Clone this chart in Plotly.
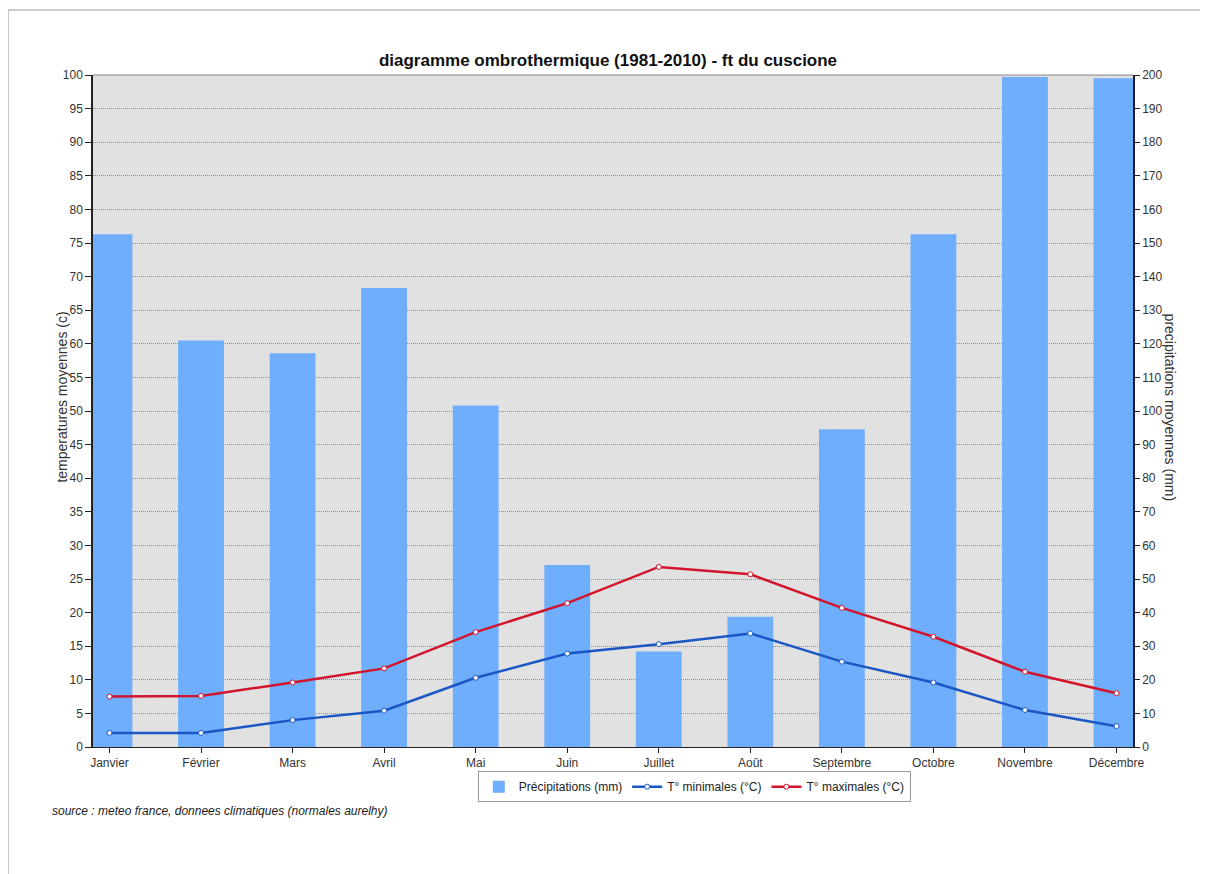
import plotly.graph_objects as go

mois = ['Janvier', 'Février', 'Mars', 'Avril', 'Mai', 'Juin',
        'Juillet', 'Août', 'Septembre', 'Octobre', 'Novembre', 'Décembre']
precip_mm = [152.6, 121.0, 117.2, 136.6, 101.6, 54.2, 28.4, 38.8, 94.6, 152.6, 199.4, 199.0]
t_min = [2.1, 2.1, 4.0, 5.4, 10.3, 13.9, 15.3, 16.9, 12.7, 9.6, 5.5, 3.1]
t_max = [7.5, 7.6, 9.6, 11.7, 17.1, 21.4, 26.8, 25.7, 20.7, 16.4, 11.2, 8.0]

FONT = 'Liberation Sans, Arial, sans-serif'

fig = go.Figure()

# precipitations on the primary axis (drawn right), so the lines stay on top
fig.add_trace(go.Bar(
    x=mois, y=precip_mm, name='Précipitations (mm)',
    marker=dict(color='#6eaefd', line=dict(width=0)),
    width=0.5, yaxis='y'
))

fig.add_trace(go.Scatter(
    x=mois, y=t_min, name='T° minimales (°C)', mode='lines+markers',
    line=dict(color='#1a56c4', width=2.5),
    marker=dict(size=5, color='white', line=dict(color='#1a56c4', width=1)),
    yaxis='y2'
))
fig.add_trace(go.Scatter(
    x=mois, y=t_max, name='T° maximales (°C)', mode='lines+markers',
    line=dict(color='#d2142c', width=2.5),
    marker=dict(size=5, color='white', line=dict(color='#d2142c', width=1)),
    yaxis='y2'
))

# page body has an 8px margin, so the figure is 8px smaller than the window
fig.update_layout(
    width=1200, height=866,
    margin=dict(l=85, r=75, t=67, b=127),
    paper_bgcolor='white',
    plot_bgcolor='#e1e1e1',
    font=dict(family=FONT, size=12, color='#333'),
    title=dict(text='<b>diagramme ombrothermique (1981-2010) - ft du cuscione</b>',
               x=0.5, xanchor='center', y=0.94, yanchor='middle',
               font=dict(size=17, color='#111')),
    xaxis=dict(
        type='category', range=[-0.18, 11.18],
        showline=True, linecolor='#222', linewidth=1,
        ticks='outside', ticklen=5, tickcolor='#222',
        showgrid=False, zeroline=False,
        tickfont=dict(size=12, color='#333')
    ),
    yaxis=dict(
        side='right', range=[0, 200], dtick=10,
        showline=True, linecolor='#1a1a3a', linewidth=1.5,
        ticks='outside', ticklen=5, tickcolor='#222',
        showgrid=True, gridcolor='#8c8c8c', griddash='1px,1px', gridwidth=1,
        zeroline=False,
        tickfont=dict(size=12, color='#333')
    ),
    yaxis2=dict(
        overlaying='y', side='left', range=[0, 100], dtick=5,
        showline=True, linecolor='#222', linewidth=1.5,
        ticks='outside', ticklen=6, tickcolor='#222',
        showgrid=False, zeroline=False,
        tickfont=dict(size=12, color='#333')
    ),
    legend=dict(
        orientation='h', x=0.37, y=-0.036, xanchor='left', yanchor='top',
        bordercolor='#999', borderwidth=1, bgcolor='white',
        font=dict(size=12, color='#222'),
        itemwidth=30, tracegroupgap=0
    ),
    showlegend=True,
)

fig.update_layout(
    annotations=[
        dict(text='temperatures moyennes (c)', textangle=-90,
             x=-0.0298, y=0.52, xref='paper', yref='paper',
             xanchor='center', yanchor='middle', showarrow=False,
             font=dict(size=14, color='#333')),
        dict(text='precipitations moyennes (mm)', textangle=90,
             x=1.0356, y=0.505, xref='paper', yref='paper',
             xanchor='center', yanchor='middle', showarrow=False,
             font=dict(size=14, color='#333')),
        dict(text='<i>source : meteo france, donnees climatiques (normales aurelhy)</i>',
             x=-0.0413, y=-0.095, xref='paper', yref='paper',
             xanchor='left', yanchor='middle', showarrow=False,
             font=dict(size=12, color='#222')),
    ],
    shapes=[
        # plot top border
        dict(type='line', xref='paper', yref='paper', x0=0, x1=1, y0=1, y1=1,
             line=dict(color='#888', width=1)),
        # outer frame (left and top edges)
        dict(type='line', xref='paper', yref='paper', x0=-0.0817, x1=-0.0817,
             y0=1.0967, y1=-0.19, line=dict(color='#999', width=1)),
        dict(type='line', xref='paper', yref='paper', x0=-0.0817, x1=1.075,
             y0=1.0967, y1=1.0967, line=dict(color='#999', width=1)),
    ]
)

fig.write_html('out.html')
